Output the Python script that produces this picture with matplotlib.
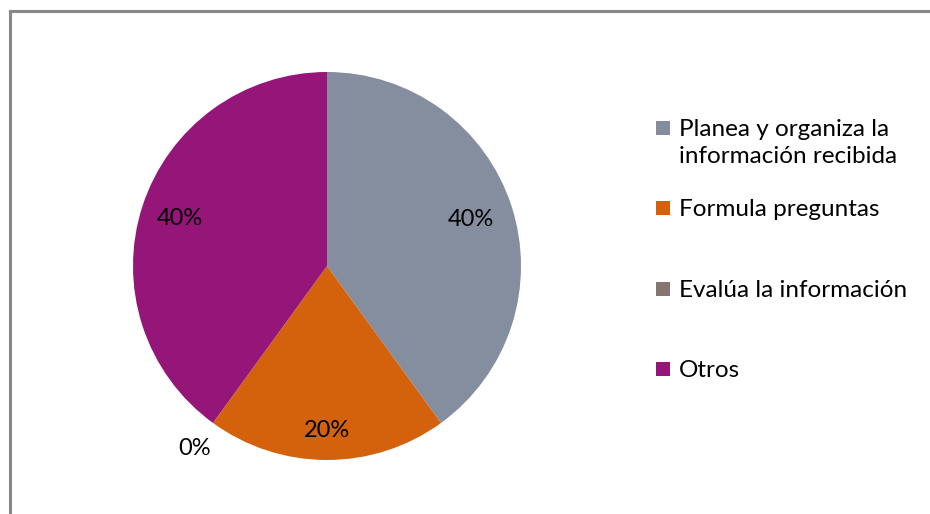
import numpy as np
import matplotlib
matplotlib.use("Agg")
import matplotlib.pyplot as plt
from matplotlib.patches import Rectangle
from matplotlib.lines import Line2D

categories = ["Planea y organiza la\ninformación recibida", "Formula preguntas",
              "Evalúa la información", "Otros"]
values = [40, 20, 0, 40]
pct_labels = ["40%", "20%", "0%", "40%"]
colors = ["#848E9E", "#D4620C", "#857470", "#951579"]
label_dist = [0.78, 0.85, 1.16, 0.80]

W, H = 930, 514
fig = plt.figure(figsize=(W / 100, H / 100), dpi=100)
plt.rcParams['font.family'] = ['Lato', 'DejaVu Sans']

# chart area frame (runs off the right and bottom edges)
fig.add_artist(Line2D([9.5 / W, 1.01], [1 - 11 / H, 1 - 11 / H], color="#888888", lw=2.2,
                      transform=fig.transFigure))
fig.add_artist(Line2D([9.5 / W, 9.5 / W], [1 - 11 / H, -0.01], color="#888888", lw=2.2,
                      transform=fig.transFigure))

cx, cy, r = 327, 266, 194
ax = fig.add_axes([(cx - r) / W, (H - cy - r) / H, 2 * r / W, 2 * r / H])
ax.pie(values, colors=colors, startangle=90, counterclock=False, radius=1,
       wedgeprops=dict(linewidth=0))
ax.set_xlim(-1, 1)
ax.set_ylim(-1, 1)
ax.set_aspect("auto")
ax.axis("off")

total = sum(values)
start = 90.0
for v, lab, d in zip(values, pct_labels, label_dist):
    sweep = 360.0 * v / total
    mid = np.deg2rad(start - sweep / 2)
    ax.text(d * np.cos(mid), d * np.sin(mid), lab, ha="center", va="center",
            fontsize=17, color="black")
    start -= sweep

# legend
sq = 14
leg_y = [128, 208, 289, 369]
for lab, c, y in zip(categories, colors, leg_y):
    fig.add_artist(Rectangle((656 / W, (H - y - sq / 2) / H), sq / W, sq / H,
                             facecolor=c, edgecolor="none", transform=fig.transFigure))
    fig.text(679 / W, (H - y + 9) / H, lab, ha="left", va="top", fontsize=17.5,
             color="black", linespacing=1.38)

fig.savefig("out.png", dpi=100, facecolor="white")
